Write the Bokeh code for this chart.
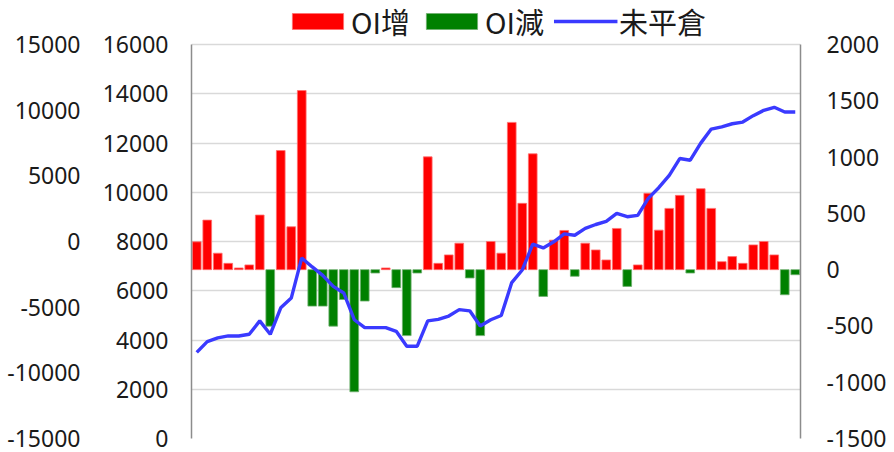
from bokeh.plotting import figure
from bokeh.models import (Range1d, LinearAxis, FixedTicker, Grid, Legend, LegendItem,
                          NumeralTickFormatter)
from bokeh.embed import file_html
from bokeh.resources import INLINE

# ---- data ----
oi_change = [247, 440, 146, 56, 15, 42, 485, -502, 1058, 381,
             1591, -324, -324, -502, -265, -1085, -279, -30, 15, -160,
             -586, -30, 1002, 56, 131, 235, -74, -586, 250, 146,
             1308, 589, 1029, -238, 262, 348, -59, 235, 175, 86,
             366, -149, 42, 678, 351, 544, 660, -30, 719, 544,
             71, 116, 56, 220, 250, 131, -223, -45]
open_interest = [-735, -639, -606, -589, -589, -574, -455, -574, -339, -253,
                 104, 24, -51, -149, -207, -445, -515, -515, -515, -548,
                 -680, -680, -455, -442, -412, -355, -366, -500, -445, -407,
                 -115, -3, 226, 193, 247, 318, 306, 366, 401, 428,
                 499, 470, 482, 633, 728, 838, 987, 972, 1124, 1249,
                 1269, 1296, 1311, 1368, 1415, 1442, 1400, 1400]
right_ticks = [-1500, -1000, -500, 0, 500, 1000, 1500, 2000]
inner_ticks = [0, 2000, 4000, 6000, 8000, 10000, 12000, 14000, 16000]
outer_ticks = [-15000, -10000, -5000, 0, 5000, 10000, 15000]
labels = ["OI增", "OI減", "未平倉"]

n = len(oi_change)
xs = [i + 0.5 for i in range(n)]
up_x = [x for x, v in zip(xs, oi_change) if v > 0]
up_v = [v for v in oi_change if v > 0]
dn_x = [x for x, v in zip(xs, oi_change) if v < 0]
dn_v = [v for v in oi_change if v < 0]

FONT = "Noto Sans"
AX_SIZE = "23px"
TXT = "#1a1a1a"
AXC = "#8c8c8c"

PLOT_H = 394      # px height of the plotting area (scale span)
HEAD = 44         # px headroom above the plotting area (holds the legend)

def span(ticks):
    lo, hi = ticks[0], ticks[-1]
    return Range1d(lo, hi + (hi - lo) * HEAD / PLOT_H)

p = figure(frame_width=609, frame_height=PLOT_H + HEAD, output_backend="svg",
           toolbar_location=None,
           x_range=Range1d(0, n), y_range=span(right_ticks),
           y_axis_location="right", x_axis_location=None,
           min_border_left=191, min_border_right=84, min_border_top=0, min_border_bottom=12)
p.outline_line_color = None
p.background_fill_color = "white"
p.border_fill_color = "white"
p.xgrid.visible = False
p.ygrid.visible = False

p.extra_y_ranges = {"inner": span(inner_ticks), "outer": span(outer_ticks)}

def style(ax, standoff, ticks, line=True):
    ax.ticker = FixedTicker(ticks=ticks)
    ax.bounds = (ticks[0], ticks[-1])
    ax.formatter = NumeralTickFormatter(format="0")
    ax.major_label_text_font = FONT
    ax.major_label_text_font_size = AX_SIZE
    ax.major_label_text_color = TXT
    ax.major_tick_line_color = None
    ax.minor_tick_line_color = None
    ax.major_tick_out = 0
    ax.major_tick_in = 0
    ax.major_label_standoff = standoff
    if line:
        ax.axis_line_color = AXC
        ax.axis_line_width = 1.5
    else:
        ax.axis_line_color = None

style(p.yaxis[0], 26, right_ticks)

inner_ax = LinearAxis(y_range_name="inner")
style(inner_ax, 23, inner_ticks)
p.add_layout(inner_ax, "left")

outer_ax = LinearAxis(y_range_name="outer")
style(outer_ax, 19, outer_ticks, line=False)
p.add_layout(outer_ax, "left")

grid = Grid(dimension=1, ticker=FixedTicker(ticks=inner_ticks), y_range_name="inner",
            grid_line_color="#d9d9d9", grid_line_width=1.5)
p.add_layout(grid)

r_up = p.vbar(x=up_x, top=up_v, bottom=0, width=0.83, fill_color="#ff0000",
              line_color="#ff7070", line_width=0.8)
r_dn = p.vbar(x=dn_x, top=dn_v, bottom=0, width=0.83, fill_color="#008000",
              line_color="#70b070", line_width=0.8)
r_line = p.line(xs, open_interest, line_color="#3a3aff", line_width=3.4)

legend = Legend(items=[LegendItem(label=labels[0], renderers=[r_up]),
                       LegendItem(label=labels[1], renderers=[r_dn]),
                       LegendItem(label=labels[2], renderers=[r_line])],
                orientation="horizontal", location="top_center",
                glyph_width=64, glyph_height=20, label_standoff=2, spacing=9,
                padding=0, margin=0, border_line_color=None, background_fill_alpha=0,
                label_text_font="Noto Sans CJK TC", label_text_font_size="29px",
                label_text_color=TXT)
p.add_layout(legend, "center")

open("out.html", "w").write(file_html(p, INLINE))
